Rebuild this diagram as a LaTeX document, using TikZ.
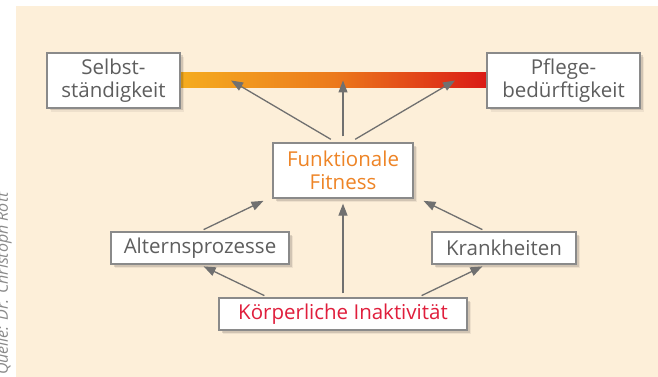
\documentclass[tikz,border=0pt]{standalone}
\usepackage{fontspec}
\setmainfont{Open Sans}
\newfontfamily\srcfont{Open Sans}
\usetikzlibrary{arrows.meta,calc,shadows}
\definecolor{cream}{HTML}{FDEFD9}
\definecolor{txtgray}{HTML}{5E5E5E}
\definecolor{srcgray}{HTML}{8A8A8A}
\definecolor{boxgray}{HTML}{8A8A8A}
\definecolor{arrgray}{HTML}{707070}
\definecolor{fitorange}{HTML}{EE8426}
\definecolor{inakred}{HTML}{E01E3C}
\definecolor{barY}{HTML}{F5AC1E}
\definecolor{barO}{HTML}{EC7A1C}
\definecolor{barR}{HTML}{DA1A16}
\tikzset{
  box/.style={draw=boxgray, line width=1.3pt, fill=white, inner sep=0pt, align=center,
    text=txtgray, font=\fontsize{20.5}{23}\selectfont,
    general shadow={shadow xshift=4pt, shadow yshift=-4pt, fill=black, opacity=0.06},
    general shadow={shadow xshift=2.5pt, shadow yshift=-2.5pt, fill=black, opacity=0.12}},
  arr/.style={draw=arrgray, line width=1.3pt, -{Triangle[length=12pt,width=9pt]}}
}
\begin{document}
\begin{tikzpicture}[x=1pt,y=-1pt]
\useasboundingbox (0,0) rectangle (658,377);
\fill[white] (0,0) rectangle (658,377);
\fill[cream] (16,6) rectangle (658,377);
\node[rotate=90, anchor=base west, text=srcgray, inner sep=0pt, font=\srcfont\itshape\fontsize{16}{19}\selectfont] (src) at (8,375) {Quelle: Dr. Christoph Rott};
% gradient bar
\node[minimum width=307pt, minimum height=15pt, inner sep=0pt, left color=barY, right color=barR, middle color=barO] (bar) at (333.5,80.5) {};
% boxes
\node[box, minimum width=133pt, minimum height=55pt] (selb) at (113.5,80.5) {Selbst-\\ständigkeit};
\node[box, minimum width=153pt, minimum height=55pt] (pfl) at (563.5,80.5) {Pflege-\\bedürftigkeit};
\node[box, minimum width=140pt, minimum height=55pt, text=fitorange] (fit) at (343,170.5) {Funktionale\\Fitness};
\node[box, minimum width=178pt, minimum height=32pt] (alt) at (200,248) {Alternsprozesse};
\node[box, minimum width=144pt, minimum height=32pt] (kr) at (504,248) {Krankheiten};
\node[box, minimum width=248pt, minimum height=32pt, text=inakred] (inak) at (343,314) {Körperliche Inaktivität};
% arrows
\draw[arr, shorten <=6pt] ($(fit.north)+(-7,0)$) -- ($(fit.north |- bar.center)+(-112,0)$);
\draw[arr, shorten <=6pt] (fit.north) -- (fit.north |- bar.center);
\draw[arr, shorten <=6pt] ($(fit.north)+(7,0)$) -- ($(fit.north |- bar.center)+(112,0)$);
\draw[arr, shorten <=4pt, shorten >=5pt] (alt.north) -- ($(fit.south)+(-75,0)$);
\draw[arr, shorten <=4pt, shorten >=5pt] ($(kr.north)+(-18,0)$) -- ($(fit.south)+(76,0)$);
\draw[arr, shorten <=4pt, shorten >=5pt] (inak.north) -- (fit.south);
\draw[arr, shorten <=4pt, shorten >=4pt] ($(inak.north)+(-75,0)$) -- (alt.south);
\draw[arr, shorten <=4pt, shorten >=4pt] ($(inak.north)+(75,0)$) -- ($(kr.south)+(-18,0)$);
\end{tikzpicture}
\end{document}
